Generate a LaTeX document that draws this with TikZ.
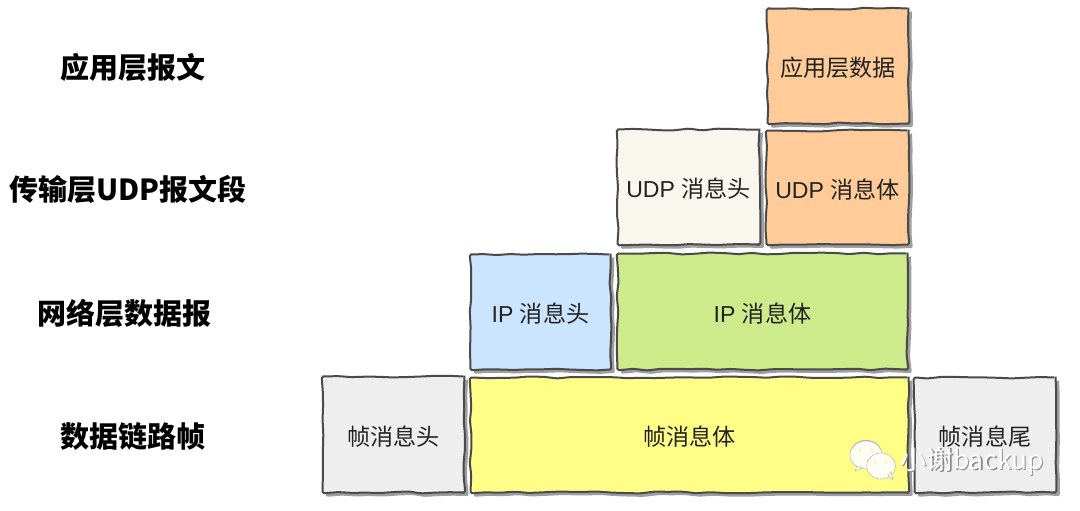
\documentclass[tikz,border=0pt]{standalone}
\usepackage{fontspec}
\usetikzlibrary{decorations.pathmorphing,shadows}
\setmainfont{Liberation Sans}
\newfontfamily\cjk{Noto Sans CJK SC}
\definecolor{peach}{HTML}{FFCC99}
\definecolor{cream}{HTML}{F9F7ED}
\definecolor{skyb}{HTML}{CCE5FF}
\definecolor{leaf}{HTML}{CDEB8B}
\definecolor{lemon}{HTML}{FFFF88}
\definecolor{pale}{HTML}{EEEEEE}
\definecolor{inkline}{HTML}{4A4A4A}
\definecolor{inktext}{HTML}{222222}
\pgfmathsetseed{42}
\tikzset{
  handbox/.style={draw=inkline,line width=2pt,inner sep=0pt,text=inktext,
    font=\fontsize{23.1}{26}\selectfont,text height=21.6pt,text depth=0pt,
    decorate,decoration={random steps,segment length=14pt,amplitude=1pt},
    rounded corners=1.5pt,
    copy shadow={shadow xshift=3.5pt,shadow yshift=-3.5pt,fill=black!38,draw=none,draw opacity=0}},
  layerlabel/.style={font=\cjk\bfseries\fontsize{29}{32}\selectfont,text=black,inner sep=0pt},
  bubble/.style={fill=white!96!yellow,draw=black!28,line width=0.5pt},
  eye/.style={fill=black!8!yellow!35,draw=none},
  mark text/.style={font=\cjk\fontsize{26.4}{30}\selectfont,inner sep=0pt,anchor=west}
}
\newcommand{\bx}[7]{\node[handbox,fill=#6,minimum width=#3pt,minimum height=#4pt] (#5) at (#1pt,-#2pt) {#7};}
\newcommand{\cn}[1]{{\cjk #1}}
\begin{document}
\begin{tikzpicture}[x=1pt,y=1pt]
\useasboundingbox (0,-511) rectangle (1080,0);
% layer labels
\node[layerlabel] (l1) at (133,-67.5) {应用层报文};
\node[layerlabel] (l2) at (128,-189) {传输层UDP报文段};
\node[layerlabel] (l3) at (124.5,-313) {网络层数据报};
\node[layerlabel] (l4) at (133,-437) {数据链路帧};
% boxes
\bx{838}{66}{141}{115}{app}{peach}{\cn{应用层数据}}
\bx{688.5}{187}{142}{115}{udph}{cream}{UDP \cn{消息头}}
\bx{837.5}{187.5}{142}{114}{udpb}{peach}{UDP \cn{消息体}}
\bx{540.5}{312}{140}{115}{iph}{skyb}{IP \cn{消息头}}
\bx{762.5}{311.5}{290}{116}{ipb}{leaf}{IP \cn{消息体}}
\bx{393.5}{434.5}{142}{116}{frh}{pale}{\cn{帧消息头}}
\bx{689.5}{435}{438}{115}{frb}{lemon}{\cn{帧消息体}}
\bx{985}{435}{141}{115}{frt}{pale}{\cn{帧消息尾}}
% watermark
\fill[black!30] (866,-454) ellipse [x radius=16,y radius=14];
\fill[bubble] (866,-455) ellipse [x radius=16,y radius=14];
\fill[bubble] (857,-466) -- (855,-471) -- (862,-468) -- cycle;
\draw[bubble] (881,-466) ellipse [x radius=14.5,y radius=13];
\fill[bubble] (888,-476) -- (893,-480) -- (891,-472) -- cycle;
\fill[eye] (860,-450) circle (1.8);
\fill[eye] (872,-450) circle (1.8);
\fill[eye] (875,-462) circle (1.6);
\fill[eye] (886,-462) circle (1.6);
\node[mark text,text=black!45] (wms) at (901.5,-462.5) {小谢backup};
\node[mark text,text=white] (wm) at (900,-461) {小谢backup};
\end{tikzpicture}
\end{document}
